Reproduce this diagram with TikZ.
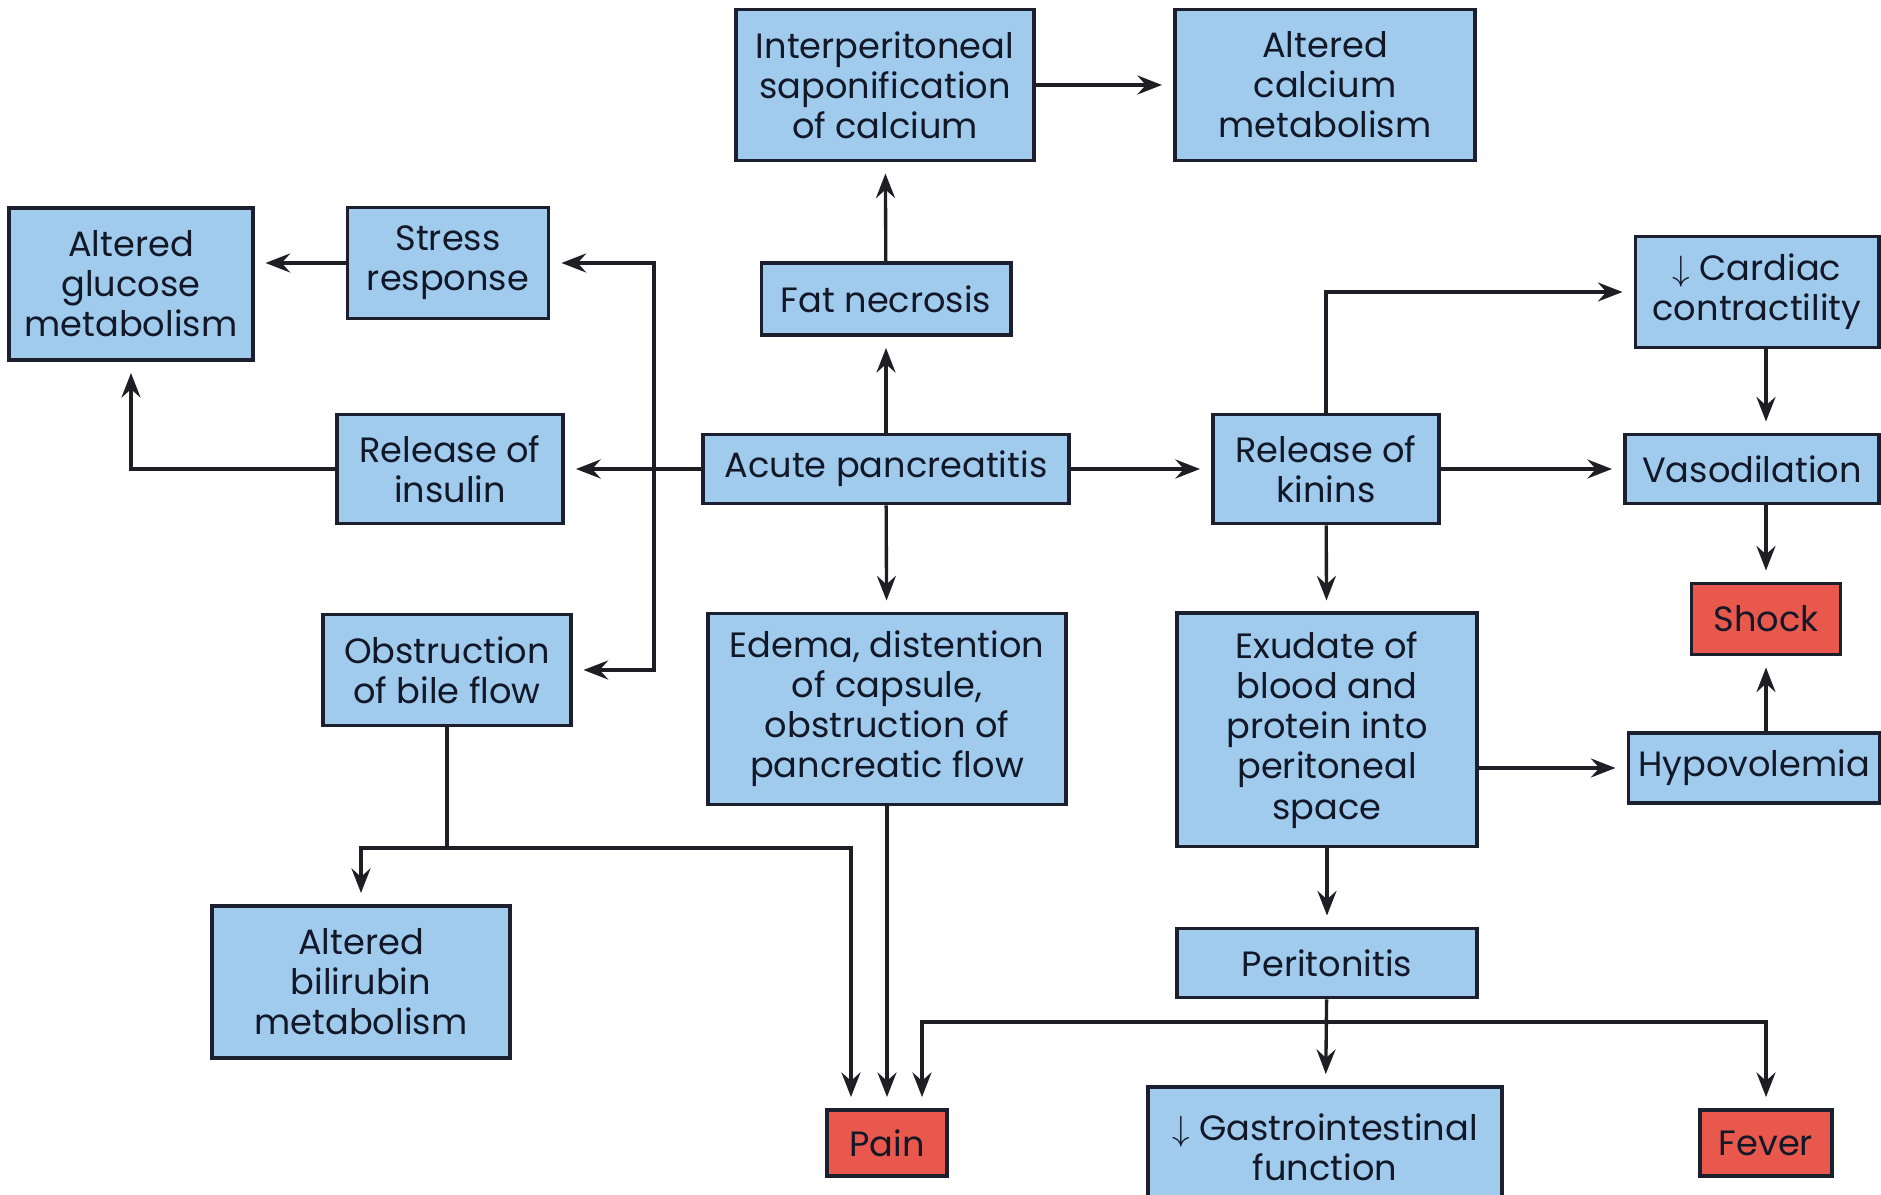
\documentclass[tikz,border=0pt]{standalone}
\usepackage{fontspec}
\setmainfont{Poppins}
\usetikzlibrary{arrows.meta}
\definecolor{boxblue}{RGB}{160,203,237}
\definecolor{boxred}{RGB}{233,88,76}
\definecolor{boxline}{RGB}{28,32,46}
\definecolor{flowline}{RGB}{30,30,36}
\definecolor{boxtext}{RGB}{18,24,40}
\tikzset{
    blue-box/.style = {draw=boxline, fill=boxblue, text=boxtext, line width=1.1pt, rectangle, align=center, inner sep=2pt, font=\fontsize{10}{11.4}\selectfont},
    red-box/.style = {blue-box, fill=boxred},
    flow/.style = {draw=flowline, line width=0.95pt},
    flow-arrow/.style = {flow, -{Stealth[length=7pt,width=5.4pt,inset=2.4pt]}, shorten >=0.11cm},
}

\begin{document}
\begin{tikzpicture}[x=0.01cm, y=-0.01cm]
\useasboundingbox (0,0) rectangle (1881,1195);
% top row
\node [blue-box, minimum width=2.98cm, minimum height=1.51cm] (saponif) at (885,85) {Interperitoneal\\saponification\\of calcium};
\node [blue-box, minimum width=3.00cm, minimum height=1.51cm] (calcium) at (1325,85) {Altered\\calcium\\metabolism};
\node [blue-box, minimum width=2.43cm, minimum height=1.52cm] (glucose) at (131,284) {Altered\\glucose\\metabolism};
\node [blue-box, minimum width=2.01cm, minimum height=1.11cm] (stress) at (448,263) {Stress\\response};
\node [blue-box, minimum width=2.49cm, minimum height=0.72cm] (fatnec) at (886,299) {Fat necrosis};
\node [blue-box, minimum width=2.43cm, minimum height=1.11cm] (cardiac) at (1757,292) {$\downarrow$ Cardiac\\contractility};
% middle row
\node [blue-box, minimum width=2.26cm, minimum height=1.09cm] (insulin) at (450,469) {Release of\\insulin};
\node [blue-box, minimum width=3.65cm, minimum height=0.69cm] (acute) at (886,469) {Acute pancreatitis};
\node [blue-box, minimum width=2.26cm, minimum height=1.09cm] (kinins) at (1326,469) {Release of\\kinins};
\node [blue-box, minimum width=2.54cm, minimum height=0.69cm] (vaso) at (1752,469) {Vasodilation};
\node [red-box, minimum width=1.49cm, minimum height=0.71cm] (shock) at (1766,619) {Shock};
% lower rows
\node [blue-box, minimum width=2.47cm, minimum height=1.11cm] (bile) at (447,670) {Obstruction\\of bile flow};
\node [blue-box, minimum width=3.57cm, minimum height=1.91cm] (edema) at (887,709) {Edema, distention\\of capsule,\\obstruction of\\pancreatic flow};
\node [blue-box, minimum width=3.00cm, minimum height=2.33cm] (exudate) at (1327,730) {Exudate of\\blood and\\protein into\\peritoneal\\space};
\node [blue-box, minimum width=2.51cm, minimum height=0.70cm] (hypo) at (1754,768) {Hypovolemia};
\node [blue-box, minimum width=2.97cm, minimum height=1.52cm] (bilirubin) at (361,982) {Altered\\bilirubin\\metabolism};
\node [blue-box, minimum width=3.00cm, minimum height=0.69cm] (peritonitis) at (1327,963) {Peritonitis};
\node [red-box, minimum width=1.20cm, minimum height=0.66cm] (pain) at (887,1143) {Pain};
\node [blue-box, minimum width=3.53cm, minimum height=1.20cm] (gastro) at (1325,1147) {$\downarrow$ Gastrointestinal\\function};
\node [red-box, minimum width=1.32cm, minimum height=0.66cm] (fever) at (1766,1143) {Fever};

\coordinate (leftsplit) at (654,469);
\coordinate (bilesplit) at (447,848);
\coordinate (peritsplit) at (1327,1022);

\draw [flow-arrow] (acute) -- (fatnec);
\draw [flow-arrow] (fatnec) -- (saponif);
\draw [flow-arrow] (saponif) -- (calcium);
\draw [flow-arrow] (acute) -- (insulin);
\draw [flow-arrow] (leftsplit) |- (stress.east);
\draw [flow-arrow] (leftsplit) |- (bile.east);
\draw [flow-arrow] (stress.west) -- (stress.west -| glucose.east);
\draw [flow-arrow] (insulin.west) -| (glucose.south);
\draw [flow-arrow] (acute) -- (kinins);
\draw [flow-arrow] (acute) -- (edema);
\draw [flow-arrow] (kinins.north) |- (cardiac.west);
\draw [flow-arrow] (kinins) -- (vaso);
\draw [flow-arrow] (kinins) -- (exudate);
\draw [flow-arrow] (cardiac.south -| shock) -- (vaso.north -| shock);
\draw [flow-arrow] (vaso.south -| shock) -- (shock);
\draw [flow-arrow] (hypo.north -| shock) -- (shock);
\draw [flow-arrow] (exudate.east |- hypo) -- (hypo.west);
\draw [flow-arrow] (exudate) -- (peritonitis);
\draw [flow-arrow] (peritonitis) -- (gastro);
\draw [flow-arrow] (peritsplit) -| ([xshift=0.35cm]pain.north);
\draw [flow-arrow] (peritsplit) -| (fever.north);
\draw [flow] (bile.south) -- (bilesplit);
\draw [flow-arrow] (bilesplit) -| (bilirubin.north);
\draw [flow-arrow] (bilesplit) -| ([xshift=-0.36cm]pain.north);
\draw [flow-arrow] (edema) -- (pain);
\end{tikzpicture}
\end{document}
